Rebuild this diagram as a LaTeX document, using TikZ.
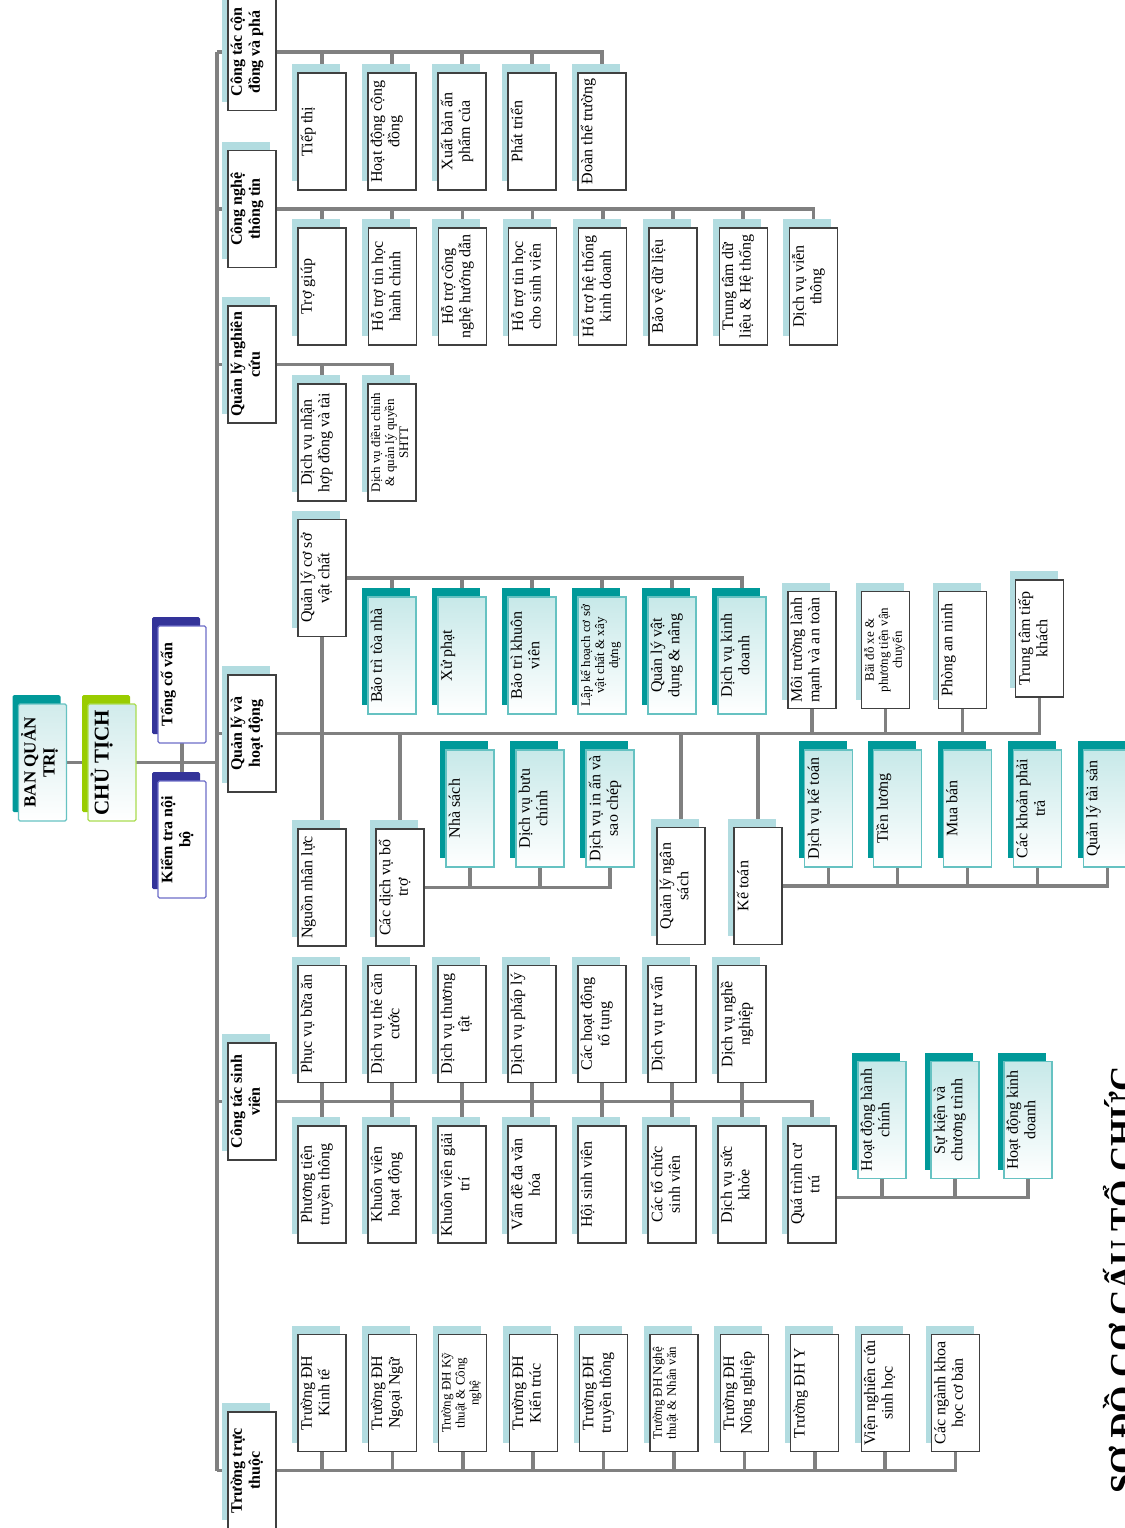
\documentclass[tikz,border=0pt]{standalone}
\usepackage{fontspec}
\setmainfont{Liberation Serif}
\usetikzlibrary{calc}
\definecolor{lb}{RGB}{178,220,224}
\definecolor{tl}{RGB}{0,153,153}
\definecolor{tlb}{RGB}{102,194,194}
\definecolor{bd}{RGB}{64,64,64}
\definecolor{cn}{RGB}{128,128,128}
\definecolor{nv}{RGB}{51,51,153}
\definecolor{nvb}{RGB}{110,110,200}
\definecolor{yg}{RGB}{153,204,0}
\definecolor{ygb}{RGB}{170,220,80}
\pgfdeclarelayer{back}
\pgfdeclarelayer{bg}
\pgfsetlayers{back,bg,main}
\tikzset{
 boxsize/.style={minimum width=117pt, minimum height=48pt, inner sep=0pt, outer sep=0pt, rotate=90},
 plainshadow/.style={boxsize, fill=lb},
 plainfront/.style={boxsize, fill=white, draw=bd, line width=1.3pt},
 tealshadow/.style={boxsize, fill=tl},
 tealfront/.style={boxsize, draw=tlb, line width=1.3pt, top color=tl!22, bottom color=white},
 bqtshadow/.style={boxsize, fill=tl, rounded corners=1.5pt},
 bqtfront/.style={boxsize, draw=tlb, line width=1.3pt, rounded corners=1.5pt, top color=cyan!15!teal!18, bottom color=white},
 ctshadow/.style={boxsize, fill=yg, rounded corners=1.5pt},
 ctfront/.style={boxsize, draw=ygb, line width=1.3pt, rounded corners=1.5pt, top color=cyan!15!teal!18, bottom color=white},
 nvshadow/.style={boxsize, fill=nv, rounded corners=1.5pt},
 nvfront/.style={boxsize, draw=nvb, line width=1.3pt, rounded corners=1.5pt, fill=white},
 txt/.style={rotate=90, anchor=north, align=center, inner sep=2.5pt, font=\fontsize{16}{17.5}\selectfont},
 sm/.style={font=\fontsize{13}{14}\selectfont},
 bf/.style={font=\fontsize{16}{18}\selectfont\bfseries},
 conn/.style={draw=cn, line width=3.5pt},
}
\newcommand{\orgbox}[6]{%
 \node[#4shadow] (#1s) at ({#2-6},{#3-9}) {};
 \node[#4front] (#1) at (#2,#3) {};
 \node[txt,#5] (#1t) at (#1.north) {#6};}
\begin{document}
\begin{tikzpicture}[x=1pt,y=-1pt]
\begin{pgfonlayer}{back}\fill[white] (0,0) rectangle (1124,1528);\end{pgfonlayer}
\useasboundingbox (0,0) rectangle (1124,1528);
% level 1
\orgbox{bqt}{42.5}{762.5}{bqt}{font=\fontsize{17}{19}\selectfont\bfseries}{BAN QUẢN\\TRỊ}
\orgbox{ct}{112}{762.5}{ct}{font=\fontsize{21}{23}\selectfont\bfseries}{CHỦ TỊCH}
\orgbox{tcv}{182}{684.5}{nv}{bf}{Tổng cố vấn}
\orgbox{ktnb}{182}{839.5}{nv}{bf}{Kiểm tra nội\\bộ}
% level 2
\orgbox{ctcd}{252}{52}{plain}{bf}{Công tác cộn\\đồng và phá}
\orgbox{cntt}{252}{209}{plain}{bf}{Công nghệ\\thông tin}
\orgbox{qlnc}{252}{364.5}{plain}{bf}{Quản lý nghiên\\cứu}
\orgbox{qlhd}{252}{733.5}{plain}{bf}{Quản lý và\\hoạt động}
\orgbox{ctsv}{252}{1101.5}{plain}{bf}{Công tác sinh\\viên}
\orgbox{ttt}{252}{1470.5}{plain}{bf}{Trường trực\\thuộc}
% Cong tac cong dong
\orgbox{a1}{322}{131.5}{plain}{}{Tiếp thị}
\orgbox{a2}{392}{131.5}{plain}{}{Hoạt động cộng\\đồng}
\orgbox{a3}{462}{131.5}{plain}{}{Xuất bản ấn\\phẩm của}
\orgbox{a4}{532}{131.5}{plain}{}{Phát triển}
\orgbox{a5}{602}{131.5}{plain}{}{Đoàn thể trường}
% CNTT
\orgbox{b1}{322}{286.5}{plain}{}{Trợ giúp}
\orgbox{b2}{392.2}{286.5}{plain}{}{Hỗ trợ tin học\\hành chính}
\orgbox{b3}{462.4}{286.5}{plain}{}{Hỗ trợ công\\nghệ hướng dẫn}
\orgbox{b4}{532.6}{286.5}{plain}{}{Hỗ trợ tin học\\cho sinh viên}
\orgbox{b5}{602.8}{286.5}{plain}{}{Hỗ trợ hệ thống\\kinh doanh}
\orgbox{b6}{673}{286.5}{plain}{}{Bảo vệ dữ liệu}
\orgbox{b7}{743.2}{286.5}{plain}{}{Trung tâm dữ\\liệu \& Hệ thống}
\orgbox{b8}{813.4}{286.5}{plain}{}{Dịch vụ viễn\\thông}
% QLNC
\orgbox{c1}{322}{442.5}{plain}{}{Dịch vụ nhận\\hợp đồng và tài}
\orgbox{c2}{392}{442.5}{plain}{sm}{Dịch vụ điều chỉnh\\\& quản lý quyền\\SHTT}
% QLHD
\orgbox{qlcsvc}{322}{578}{plain}{}{Quản lý cơ sở\\vật chất}
\orgbox{d1}{392}{655.5}{teal}{}{Bảo trì tòa nhà}
\orgbox{d2}{462}{655.5}{teal}{}{Xử phạt}
\orgbox{d3}{532}{655.5}{teal}{}{Bảo trì khuôn\\viên}
\orgbox{d4}{602}{655.5}{teal}{sm}{Lập kế hoạch cơ sở\\vật chất \& xây\\dựng}
\orgbox{d5}{672}{655.5}{teal}{}{Quản lý vật\\dụng \& nâng}
\orgbox{d6}{742}{655.5}{teal}{}{Dịch vụ kinh\\doanh}
\orgbox{mt}{812}{650}{plain}{}{Môi trường lành\\mạnh và an toàn}
\orgbox{bdx}{885.5}{650}{plain}{sm}{Bãi đỗ xe \&\\phương tiện vận\\chuyển}
\orgbox{pan}{962.5}{650}{plain}{}{Phòng an ninh}
\orgbox{ttk}{1039.5}{638.5}{plain}{}{Trung tâm tiếp\\khách}
\orgbox{nnl}{322}{887.5}{plain}{}{Nguồn nhân lực}
\orgbox{cdvbt}{400}{887.5}{plain}{}{Các dịch vụ bổ\\trợ}
\orgbox{e1}{470}{808.5}{teal}{}{Nhà sách}
\orgbox{e2}{540}{808.5}{teal}{}{Dịch vụ bưu\\chính}
\orgbox{e3}{610}{808.5}{teal}{}{Dịch vụ in ấn và\\sao chép}
\orgbox{qlns}{681}{886}{plain}{}{Quản lý ngân\\sách}
\orgbox{kt}{758}{886}{plain}{}{Kế toán}
\orgbox{f1}{828.5}{808.5}{teal}{}{Dịch vụ kế toán}
\orgbox{f2}{897.5}{808.5}{teal}{}{Tiền lương}
\orgbox{f3}{967.5}{808.5}{teal}{}{Mua bán}
\orgbox{f4}{1037.5}{808.5}{teal}{}{Các khoản phải\\trả}
\orgbox{f5}{1107.5}{808.5}{teal}{}{Quản lý tài sản}
% CTSV
\orgbox{g1}{322}{1024}{plain}{}{Phục vụ bữa ăn}
\orgbox{g2}{392}{1024}{plain}{}{Dịch vụ thẻ căn\\cước}
\orgbox{g3}{462}{1024}{plain}{}{Dịch vụ thương\\tật}
\orgbox{g4}{532}{1024}{plain}{}{Dịch vụ pháp lý}
\orgbox{g5}{602}{1024}{plain}{}{Các hoạt động\\tố tụng}
\orgbox{g6}{672}{1024}{plain}{}{Dịch vụ tư vấn}
\orgbox{g7}{742}{1024}{plain}{}{Dịch vụ nghề\\nghiệp}
\orgbox{h1}{322}{1184.5}{plain}{}{Phương tiện\\truyền thông}
\orgbox{h2}{392}{1184.5}{plain}{}{Khuôn viên\\hoạt động}
\orgbox{h3}{462}{1184.5}{plain}{}{Khuôn viên giải\\trí}
\orgbox{h4}{532}{1184.5}{plain}{}{Vấn đề đa văn\\hóa}
\orgbox{h5}{602}{1184.5}{plain}{}{Hội sinh viên}
\orgbox{h6}{672}{1184.5}{plain}{}{Các tổ chức\\sinh viên}
\orgbox{h7}{742}{1184.5}{plain}{}{Dịch vụ sức\\khỏe}
\orgbox{qtct}{812}{1184.5}{plain}{}{Quá trình cư\\trú}
\orgbox{k1}{882}{1120}{teal}{}{Hoạt động hành\\chính}
\orgbox{k2}{955}{1120}{teal}{}{Sự kiện và\\chương trình}
\orgbox{k3}{1028}{1120}{teal}{}{Hoạt động kinh\\doanh}
% TTT
\orgbox{m1}{322}{1393}{plain}{}{Trường ĐH\\Kinh tế}
\orgbox{m2}{392.4}{1393}{plain}{}{Trường ĐH\\Ngoại Ngữ}
\orgbox{m3}{462.8}{1393}{plain}{sm}{Trường ĐH Kỹ\\thuật \& Công\\nghệ}
\orgbox{m4}{533.2}{1393}{plain}{}{Trường ĐH\\Kiến trúc}
\orgbox{m5}{603.6}{1393}{plain}{}{Trường ĐH\\truyền thông}
\orgbox{m6}{674}{1393}{plain}{sm}{Trường ĐH Nghệ\\thuật \& Nhân văn}
\orgbox{m7}{744.4}{1393}{plain}{}{Trường ĐH\\Nông nghiệp}
\orgbox{m8}{814.8}{1393}{plain}{}{Trường ĐH Y}
\orgbox{m9}{885.2}{1393}{plain}{}{Viện nghiên cứu\\sinh học}
\orgbox{m10}{955.6}{1393}{plain}{}{Các ngành khoa\\học cơ bản}
% title
\node[rotate=90, anchor=north, inner sep=0pt, font=\fontsize{35}{37}\selectfont\bfseries] (title) at (1103,1280) {SƠ ĐỒ CƠ CẤU TỔ CHỨC};
% connectors
\begin{pgfonlayer}{bg}
\coordinate (ttop) at (217,52);
\coordinate (tbot) at (217,1470.5);
\draw[conn] (ttop) -- (tbot);
\foreach \n in {ctcd,cntt,qlnc,qlhd,ctsv,ttt} \draw[conn] (\n.north) -- (\n.north -| ttop);
\draw[conn] (bqt.south) -- (ct.north);
\draw[conn] (ct.south) -- (ct.south -| ttop);
\draw[conn] (tcv.west) -- (ktnb.east);
\foreach \c in {a1,a2,a3,a4,a5} \draw[conn] (\c.east) |- (ctcd.south);
\foreach \c in {b1,b2,b3,b4,b5,b6,b7,b8} \draw[conn] (\c.east) |- (cntt.south);
\foreach \c in {c1,c2} \draw[conn] (\c.east) |- (qlnc.south);
\foreach \c in {d1,d2,d3,d4,d5,d6} \draw[conn] (\c.east) |- (qlcsvc.south);
\draw[conn] (qlcsvc.west) -- (nnl.east);
\foreach \c in {cdvbt,qlns,kt} \draw[conn] (\c.east) |- (qlhd.south);
\foreach \c in {mt,bdx,pan,ttk} \draw[conn] (\c.west) |- (qlhd.south);
\foreach \c in {e1,e2,e3} \draw[conn] (\c.west) |- (cdvbt.south);
\foreach \c in {f1,f2,f3,f4,f5} \draw[conn] (\c.west) |- (kt.south);
\foreach \c in {g1,g2,g3,g4,g5,g6,g7} \draw[conn] (\c.west) |- (ctsv.south);
\foreach \c in {h1,h2,h3,h4,h5,h6,h7,qtct} \draw[conn] (\c.east) |- (ctsv.south);
\coordinate (qtb) at ($(qtct.south)+(0,13)$);
\foreach \c in {k1,k2,k3} \draw[conn] (\c.west) |- (qtb);
\foreach \c in {m1,m2,m3,m4,m5,m6,m7,m8,m9,m10} \draw[conn] (\c.west) |- (ttt.south);
\end{pgfonlayer}
\end{tikzpicture}
\end{document}
